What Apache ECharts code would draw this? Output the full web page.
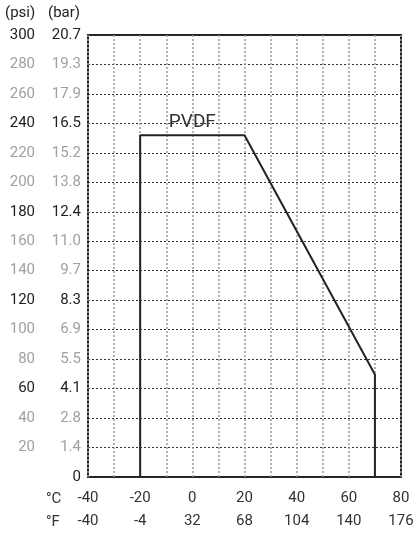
<!DOCTYPE html>
<html><head><meta charset="utf-8">
<script src="https://cdn.jsdelivr.net/npm/echarts@6/dist/echarts.min.js"></script>
<style>html,body{margin:0;padding:0;background:#fff}#c{width:417px;height:533px}</style>
</head><body><div id="c"></div>
<script>
var psiTicks = [0,20,40,60,80,100,120,140,160,180,200,220,240,260,280,300];
var psiLabels = ['','20','40','60','80','100','120','140','160','180','200','220','240','260','280','300'];
var barLabels = ['0','1.4','2.8','4.1','5.5','6.9','8.3','9.7','11.0','12.4','13.8','15.2','16.5','17.9','19.3','20.7'];
var darkTicks = [0,60,120,180,240,300];
var tempC = [-40,-20,0,20,40,60,80];
var tempF = [-40,-4,32,68,104,140,176];
var curveTemp = [-20,-20,20,70,70];
var curvePsi = [0,232,232,69.6,0];
var seriesName = 'PVDF';

var FONT = 'Roboto';
function yFmt(labels){
  return function(v){
    var i = psiTicks.indexOf(v);
    if (i < 0) return '';
    var t = labels[i];
    if (t === '') return '';
    return darkTicks.indexOf(v) >= 0 ? '{d|' + t + '}' : '{g|' + t + '}';
  };
}
var rich = {
  d:{color:'#222',fontSize:15,fontFamily:FONT},
  g:{color:'#a0a0a0',fontSize:15,fontFamily:FONT}
};
var chart = echarts.init(document.getElementById('c'));
chart.setOption({
  animation:false,
  grid:{left:88,right:16,top:35,bottom:52,show:true,borderColor:'#222',borderWidth:2,backgroundColor:'transparent'},
  xAxis:{type:'value',min:-40,max:80,interval:10,
    axisLine:{show:false},axisTick:{show:false},
    splitLine:{show:true,lineStyle:{color:'#999',width:1.5,type:[2,2]}},
    axisLabel:{margin:10,lineHeight:23,color:'#333',fontSize:15,fontFamily:FONT,
      formatter:function(v){var i=tempC.indexOf(v);return i<0?'':(tempC[i]+'\n'+tempF[i]);}}
  },
  yAxis:[
    {type:'value',min:0,max:300,interval:20,position:'left',
      axisLine:{show:false},axisTick:{show:false},
      splitLine:{show:true,lineStyle:{color:'#333',width:1,type:[2,2]}},
      axisLabel:{margin:7,formatter:yFmt(barLabels),rich:rich}},
    {type:'value',min:0,max:300,interval:20,position:'left',offset:46,
      axisLine:{show:false},axisTick:{show:false},splitLine:{show:false},
      axisLabel:{margin:7,formatter:yFmt(psiLabels),rich:rich}}
  ],
  graphic:[
    {type:'text',left:5,top:6,style:{text:'(psi)',fontSize:15,fontFamily:FONT,fill:'#222'}},
    {type:'text',left:48,top:6,style:{text:'(bar)',fontSize:15,fontFamily:FONT,fill:'#222'}},
    {type:'text',left:46,top:492,style:{text:'°C',fontSize:15,fontFamily:FONT,fill:'#333'}},
    {type:'text',left:46,top:515,style:{text:'°F',fontSize:15,fontFamily:FONT,fill:'#333'}}
  ],
  series:[{
    name:seriesName,type:'line',yAxisIndex:0,symbol:'none',z:10,
    lineStyle:{color:'#222',width:2},
    data:curveTemp.map(function(t,i){return [t,curvePsi[i]];}),
    markPoint:{symbol:'circle',symbolSize:0,silent:true,
      label:{show:true,formatter:seriesName,color:'#333',fontSize:19,fontFamily:FONT,position:'inside'},
      data:[{coord:[0,241]}]}
  }]
});
</script></body></html>
